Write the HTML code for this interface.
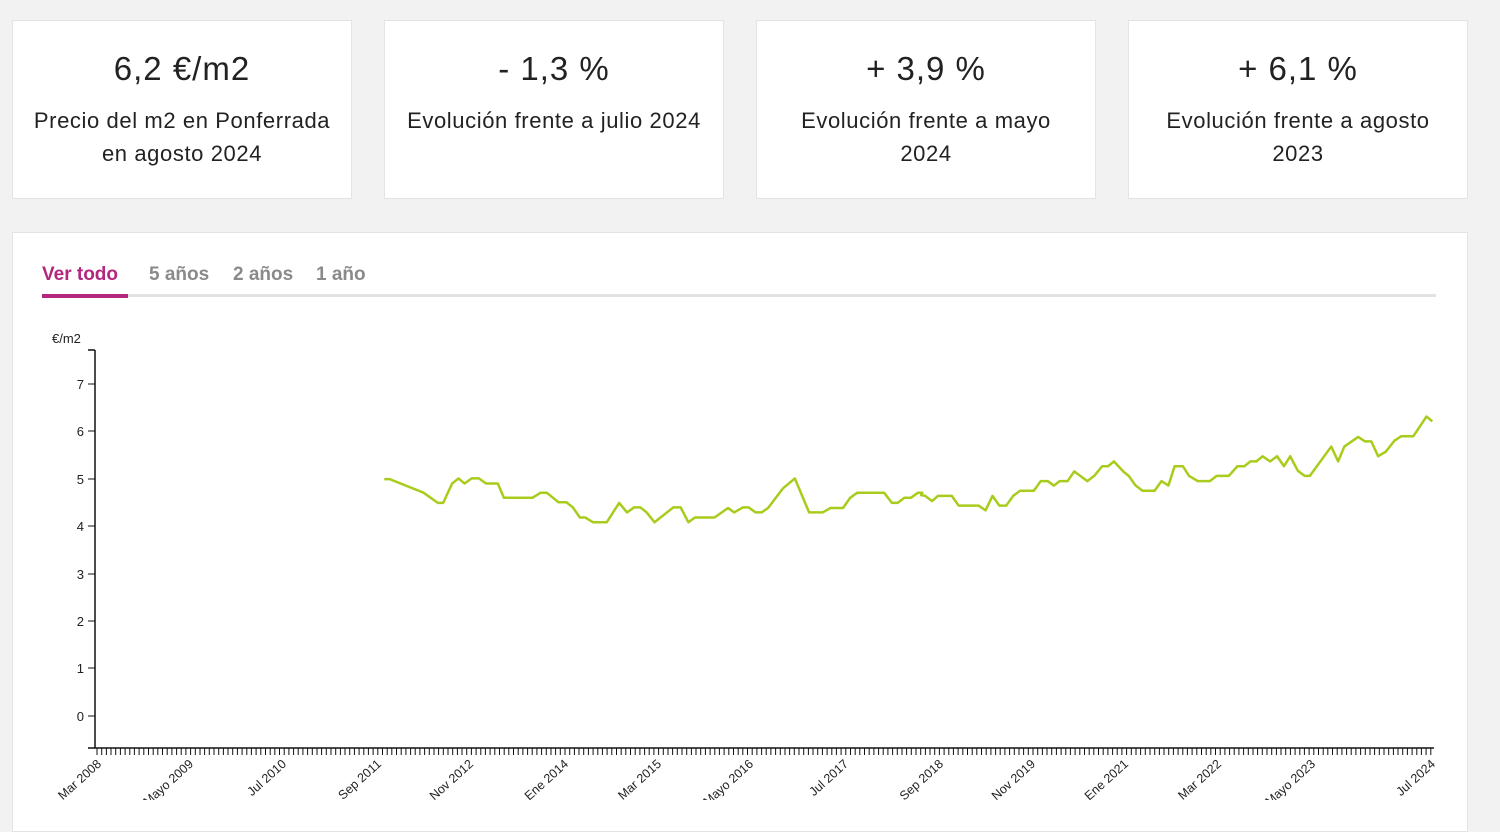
<!DOCTYPE html>
<html><head><meta charset="utf-8"><style>
body{margin:0;width:1500px;height:800px;background:#f2f2f2;font-family:"Liberation Sans",sans-serif;overflow:hidden;position:relative}
.card{position:absolute;background:#fff;border:1px solid #e3e3e3;box-sizing:border-box;text-align:center;color:#222}
.big{position:absolute;top:29px;left:0;right:0;font-size:33px;letter-spacing:1px}
.sub{position:absolute;top:83px;left:0;right:0;font-size:22px;line-height:33px;letter-spacing:0.6px;white-space:nowrap}
</style></head><body>
<div class="card" style="left:12px;top:20px;width:340px;height:179px"><div class="big">6,2 €/m2</div><div class="sub">Precio del m2 en Ponferrada<br>en agosto 2024</div></div>
<div class="card" style="left:384px;top:20px;width:340px;height:179px"><div class="big">- 1,3 %</div><div class="sub">Evolución frente a julio 2024</div></div>
<div class="card" style="left:756px;top:20px;width:340px;height:179px"><div class="big">+ 3,9 %</div><div class="sub">Evolución frente a mayo<br>2024</div></div>
<div class="card" style="left:1128px;top:20px;width:340px;height:179px"><div class="big">+ 6,1 %</div><div class="sub">Evolución frente a agosto<br>2023</div></div>
<div class="card" style="left:12px;top:232px;width:1456px;height:600px"></div>
<div style="position:absolute;left:42px;top:264px;font-size:19px;font-weight:bold;color:#b3277c">Ver todo</div>
<div style="position:absolute;left:149px;top:264px;font-size:19px;font-weight:bold;color:#8a8a8a">5 años</div>
<div style="position:absolute;left:233px;top:264px;font-size:19px;font-weight:bold;color:#8a8a8a">2 años</div>
<div style="position:absolute;left:316px;top:264px;font-size:19px;font-weight:bold;color:#8a8a8a">1 año</div>
<div style="position:absolute;left:42px;top:294px;width:1394px;height:3px;background:#e2e2e2"></div>
<div style="position:absolute;left:42px;top:294px;width:86px;height:4px;background:#b3277c"></div>
<svg style="position:absolute;left:0;top:0" width="1500" height="800" font-family="Liberation Sans, sans-serif" font-size="13" fill="#222">
<text x="52" y="343">€/m2</text>
<line x1="95" y1="350" x2="95" y2="748" stroke="#111" stroke-width="1.5"/>
<line x1="88" y1="350" x2="95" y2="350" stroke="#111" stroke-width="1.5"/>
<line x1="88" y1="748" x2="1434" y2="748" stroke="#111" stroke-width="1.5"/>
<g stroke="#111">
<line x1="88" y1="384" x2="95" y2="384"/><line x1="88" y1="431" x2="95" y2="431"/><line x1="88" y1="479" x2="95" y2="479"/><line x1="88" y1="526" x2="95" y2="526"/><line x1="88" y1="574" x2="95" y2="574"/><line x1="88" y1="621" x2="95" y2="621"/><line x1="88" y1="668" x2="95" y2="668"/><line x1="88" y1="716" x2="95" y2="716"/>
</g>
<g text-anchor="end">
<text x="84" y="389">7</text><text x="84" y="436">6</text><text x="84" y="484">5</text><text x="84" y="531">4</text><text x="84" y="579">3</text><text x="84" y="626">2</text><text x="84" y="673">1</text><text x="84" y="721">0</text>
</g>
<path id="ticks" stroke="#111" stroke-width="1" d=""/>
<g id="xl" text-anchor="end" font-size="12.5"></g>
<g fill="none" stroke="#a8cc1c" stroke-width="2.5" stroke-linejoin="round">
<polyline vector-effect="non-scaling-stroke" transform="translate(370,440) scale(0.357,0.34)" points="40,115 55,115 150,155 190,185 205,185 230,128 248,113 265,128 285,113 305,113 325,128 358,128 375,170 455,170 478,155 495,155 528,183 550,183 568,198 588,228 603,228 625,242 663,242 698,185 720,213 740,198 757,198 775,213 797,242 850,198 870,198 892,242 910,228 965,228 1003,200 1020,213 1045,198 1060,198 1080,213 1097,213 1115,200 1157,142 1190,113 1230,213 1268,213 1290,200 1325,200 1345,170 1365,155 1440,155 1462,185 1478,185 1497,170 1515,170 1535,155 1550,155"/>
<polyline vector-effect="non-scaling-stroke" transform="translate(920,400) scale(0.345,0.345)" points="0,275 15,278 35,293 52,278 92,278 112,306 170,306 190,320 210,278 230,306 250,306 270,278 290,263 330,263 350,235 370,235 388,248 405,235 428,235 447,207 485,235 505,220 528,192 545,192 562,178 590,208 605,220 625,248 645,263 680,263 700,235 720,248 738,192 762,192 780,220 805,235 840,235 860,220 895,220 920,192 940,192 958,178 975,178 993,163 1015,178 1035,163 1055,192 1073,163 1095,205 1115,220 1130,220 1192,135 1212,178 1230,135 1270,107 1290,120 1308,120 1328,163 1350,150 1375,118 1395,105 1430,105 1468,48 1485,62"/>
</g>
</svg>
<script>
var d="";for(var x=97;x<=1434;x+=4.68){d+="M"+x.toFixed(1)+" 748V755";}
document.getElementById("ticks").setAttribute("d",d);
var L=[["Mar 2008",98],["Mayo 2009",190],["Jul 2010",283],["Sep 2011",378],["Nov 2012",470],["Ene 2014",565],["Mar 2015",658],["Mayo 2016",750],["Jul 2017",845],["Sep 2018",940],["Nov 2019",1032],["Ene 2021",1125],["Mar 2022",1218],["Mayo 2023",1312],["Jul 2024",1432]];
var g=document.getElementById("xl"),s="";
L.forEach(function(l){s+='<text transform="translate('+(l[1]+4)+',765) rotate(-42)">'+l[0]+'</text>';});
g.innerHTML=s;
</script>
</body></html>
